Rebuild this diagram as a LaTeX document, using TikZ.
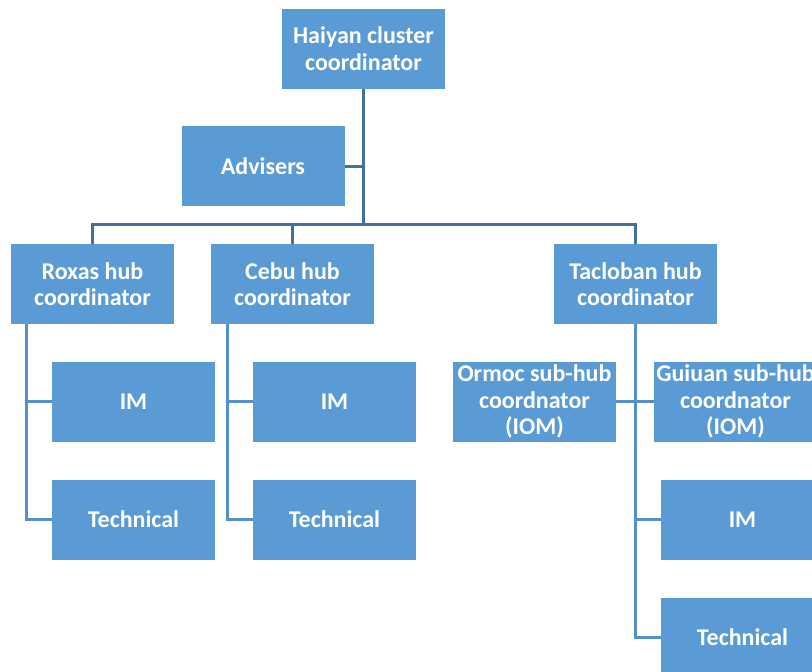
\documentclass[tikz,border=0pt]{standalone}
\usepackage{fontspec}
\setmainfont{Carlito}
\definecolor{boxblue}{HTML}{5B9BD5}
\definecolor{topline}{HTML}{41719C}
\definecolor{subline}{HTML}{5590CC}
\begin{document}
\begin{tikzpicture}[x=1pt,y=-1pt,
  orgbox/.style={fill=boxblue, draw=none, minimum width=163pt, minimum height=80pt,
    inner sep=0pt, text=white, font=\fontsize{24}{26.5}\selectfont\bfseries, align=center},
  upper/.style={draw=topline, line width=3pt},
  lower/.style={draw=subline, line width=3pt}]
\useasboundingbox (0,0) rectangle (812,672);
\clip (0,0) rectangle (812,672);
% boxes (centres in page units)
\node[orgbox] (top) at (363.5,48.5) {Haiyan cluster\\coordinator};
\node[orgbox] (adv) at (263,166) {Advisers};
\node[orgbox] (rox) at (92.5,284) {Roxas hub\\coordinator};
\node[orgbox] (ceb) at (292.5,284) {Cebu hub\\coordinator};
\node[orgbox] (tac) at (635.5,284) {Tacloban hub\\coordinator};
\node[orgbox] (roxim) at (133.5,401.5) {IM};
\node[orgbox] (roxtech) at (133.5,519.5) {Technical};
\node[orgbox] (cebim) at (334.5,401.5) {IM};
\node[orgbox] (cebtech) at (334.5,519.5) {Technical};
\node[orgbox] (ormoc) at (534.5,401.5) {Ormoc sub-hub\\coordnator\\(IOM)};
\node[orgbox] (guiuan) at (735.5,401.5) {Guiuan sub-hub\\coordnator\\(IOM)};
\node[orgbox] (tacim) at (742.5,519.5) {IM};
\node[orgbox] (tactech) at (742.5,637.5) {Technical};
% junctions
\coordinate (bus) at (363.5,224);
% top level connectors
\draw[upper] (top.south) -- (bus);
\draw[upper] (adv.east) -- (adv.east -| top.south);
\draw[upper] (rox.north) -- (rox.north |- bus) -- (tac.north |- bus) -- (tac.north);
\draw[upper] (ceb.north) -- (ceb.north |- bus);
% hub children
\coordinate (roxspine) at (26,324);
\coordinate (cebspine) at (227,324);
\draw[lower] (roxspine) -- (roxspine |- roxtech.west) -- (roxtech.west);
\draw[lower] (roxspine |- roxim.west) -- (roxim.west);
\draw[lower] (cebspine) -- (cebspine |- cebtech.west) -- (cebtech.west);
\draw[lower] (cebspine |- cebim.west) -- (cebim.west);
\draw[lower] (tac.south) -- (tac.south |- tactech.west) -- (tactech.west);
\draw[lower] (tac.south |- tacim.west) -- (tacim.west);
\draw[lower] (ormoc.east) -- (guiuan.west);
\end{tikzpicture}
\end{document}
